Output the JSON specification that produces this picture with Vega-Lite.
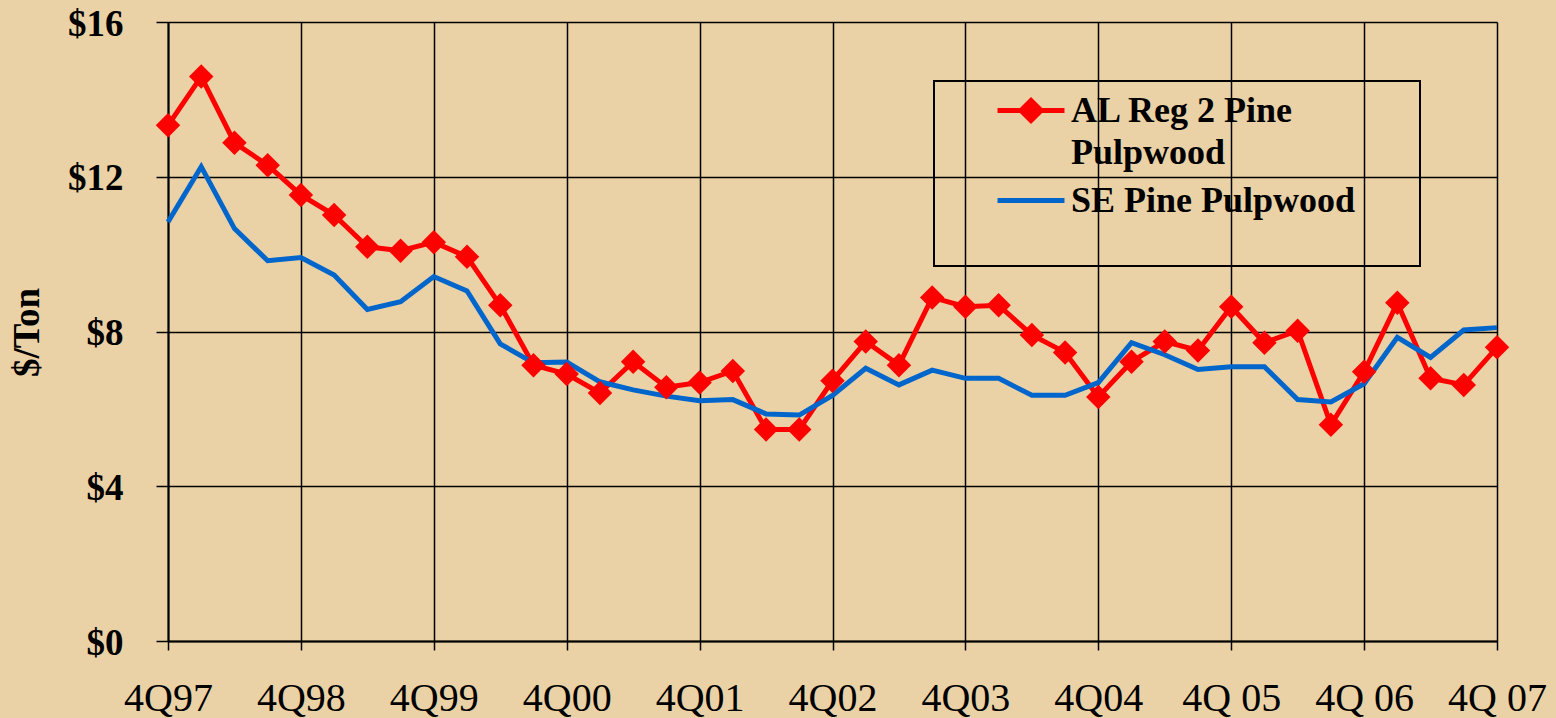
{
  "$schema": "https://vega.github.io/schema/vega-lite/v6.json",
  "autosize": {"type": "none"},
  "padding": {"left": 168, "top": 22, "right": 59, "bottom": 77},
  "width": 1329,
  "height": 619,
  "background": "#EAD2A6",
  "config": {"view": {"stroke": null}},
  "data": {"values": [
    {"quarter": "4Q97", "series": "AL Reg 2 Pine Pulpwood", "price": 13.33},
    {"quarter": "1Q98", "series": "AL Reg 2 Pine Pulpwood", "price": 14.59},
    {"quarter": "2Q98", "series": "AL Reg 2 Pine Pulpwood", "price": 12.88},
    {"quarter": "3Q98", "series": "AL Reg 2 Pine Pulpwood", "price": 12.30},
    {"quarter": "4Q98", "series": "AL Reg 2 Pine Pulpwood", "price": 11.53},
    {"quarter": "1Q99", "series": "AL Reg 2 Pine Pulpwood", "price": 11.01},
    {"quarter": "2Q99", "series": "AL Reg 2 Pine Pulpwood", "price": 10.19},
    {"quarter": "3Q99", "series": "AL Reg 2 Pine Pulpwood", "price": 10.09},
    {"quarter": "4Q99", "series": "AL Reg 2 Pine Pulpwood", "price": 10.31},
    {"quarter": "1Q00", "series": "AL Reg 2 Pine Pulpwood", "price": 9.93},
    {"quarter": "2Q00", "series": "AL Reg 2 Pine Pulpwood", "price": 8.68},
    {"quarter": "3Q00", "series": "AL Reg 2 Pine Pulpwood", "price": 7.13},
    {"quarter": "4Q00", "series": "AL Reg 2 Pine Pulpwood", "price": 6.90},
    {"quarter": "1Q01", "series": "AL Reg 2 Pine Pulpwood", "price": 6.41},
    {"quarter": "2Q01", "series": "AL Reg 2 Pine Pulpwood", "price": 7.22},
    {"quarter": "3Q01", "series": "AL Reg 2 Pine Pulpwood", "price": 6.56},
    {"quarter": "4Q01", "series": "AL Reg 2 Pine Pulpwood", "price": 6.68},
    {"quarter": "1Q02", "series": "AL Reg 2 Pine Pulpwood", "price": 6.98},
    {"quarter": "2Q02", "series": "AL Reg 2 Pine Pulpwood", "price": 5.47},
    {"quarter": "3Q02", "series": "AL Reg 2 Pine Pulpwood", "price": 5.47},
    {"quarter": "4Q02", "series": "AL Reg 2 Pine Pulpwood", "price": 6.73},
    {"quarter": "1Q03", "series": "AL Reg 2 Pine Pulpwood", "price": 7.74},
    {"quarter": "2Q03", "series": "AL Reg 2 Pine Pulpwood", "price": 7.13},
    {"quarter": "3Q03", "series": "AL Reg 2 Pine Pulpwood", "price": 8.88},
    {"quarter": "4Q03", "series": "AL Reg 2 Pine Pulpwood", "price": 8.64},
    {"quarter": "1Q04", "series": "AL Reg 2 Pine Pulpwood", "price": 8.68},
    {"quarter": "2Q04", "series": "AL Reg 2 Pine Pulpwood", "price": 7.91},
    {"quarter": "3Q04", "series": "AL Reg 2 Pine Pulpwood", "price": 7.46},
    {"quarter": "4Q04", "series": "AL Reg 2 Pine Pulpwood", "price": 6.31},
    {"quarter": "1Q 05", "series": "AL Reg 2 Pine Pulpwood", "price": 7.22},
    {"quarter": "2Q 05", "series": "AL Reg 2 Pine Pulpwood", "price": 7.74},
    {"quarter": "3Q 05", "series": "AL Reg 2 Pine Pulpwood", "price": 7.51},
    {"quarter": "4Q 05", "series": "AL Reg 2 Pine Pulpwood", "price": 8.64},
    {"quarter": "1Q 06", "series": "AL Reg 2 Pine Pulpwood", "price": 7.71},
    {"quarter": "2Q 06", "series": "AL Reg 2 Pine Pulpwood", "price": 8.02},
    {"quarter": "3Q 06", "series": "AL Reg 2 Pine Pulpwood", "price": 5.59},
    {"quarter": "4Q 06", "series": "AL Reg 2 Pine Pulpwood", "price": 6.96},
    {"quarter": "1Q 07", "series": "AL Reg 2 Pine Pulpwood", "price": 8.74},
    {"quarter": "2Q 07", "series": "AL Reg 2 Pine Pulpwood", "price": 6.79},
    {"quarter": "3Q 07", "series": "AL Reg 2 Pine Pulpwood", "price": 6.62},
    {"quarter": "4Q 07", "series": "AL Reg 2 Pine Pulpwood", "price": 7.59},
    {"quarter": "4Q97", "series": "SE Pine Pulpwood", "price": 10.83},
    {"quarter": "1Q98", "series": "SE Pine Pulpwood", "price": 12.26},
    {"quarter": "2Q98", "series": "SE Pine Pulpwood", "price": 10.66},
    {"quarter": "3Q98", "series": "SE Pine Pulpwood", "price": 9.83},
    {"quarter": "4Q98", "series": "SE Pine Pulpwood", "price": 9.91},
    {"quarter": "1Q99", "series": "SE Pine Pulpwood", "price": 9.46},
    {"quarter": "2Q99", "series": "SE Pine Pulpwood", "price": 8.57},
    {"quarter": "3Q99", "series": "SE Pine Pulpwood", "price": 8.77},
    {"quarter": "4Q99", "series": "SE Pine Pulpwood", "price": 9.42},
    {"quarter": "1Q00", "series": "SE Pine Pulpwood", "price": 9.05},
    {"quarter": "2Q00", "series": "SE Pine Pulpwood", "price": 7.68},
    {"quarter": "3Q00", "series": "SE Pine Pulpwood", "price": 7.19},
    {"quarter": "4Q00", "series": "SE Pine Pulpwood", "price": 7.21},
    {"quarter": "1Q01", "series": "SE Pine Pulpwood", "price": 6.70},
    {"quarter": "2Q01", "series": "SE Pine Pulpwood", "price": 6.49},
    {"quarter": "3Q01", "series": "SE Pine Pulpwood", "price": 6.33},
    {"quarter": "4Q01", "series": "SE Pine Pulpwood", "price": 6.21},
    {"quarter": "1Q02", "series": "SE Pine Pulpwood", "price": 6.24},
    {"quarter": "2Q02", "series": "SE Pine Pulpwood", "price": 5.87},
    {"quarter": "3Q02", "series": "SE Pine Pulpwood", "price": 5.84},
    {"quarter": "4Q02", "series": "SE Pine Pulpwood", "price": 6.35},
    {"quarter": "1Q03", "series": "SE Pine Pulpwood", "price": 7.05},
    {"quarter": "2Q03", "series": "SE Pine Pulpwood", "price": 6.62},
    {"quarter": "3Q03", "series": "SE Pine Pulpwood", "price": 7.00},
    {"quarter": "4Q03", "series": "SE Pine Pulpwood", "price": 6.79},
    {"quarter": "1Q04", "series": "SE Pine Pulpwood", "price": 6.79},
    {"quarter": "2Q04", "series": "SE Pine Pulpwood", "price": 6.35},
    {"quarter": "3Q04", "series": "SE Pine Pulpwood", "price": 6.35},
    {"quarter": "4Q04", "series": "SE Pine Pulpwood", "price": 6.68},
    {"quarter": "1Q 05", "series": "SE Pine Pulpwood", "price": 7.71},
    {"quarter": "2Q 05", "series": "SE Pine Pulpwood", "price": 7.40},
    {"quarter": "3Q 05", "series": "SE Pine Pulpwood", "price": 7.02},
    {"quarter": "4Q 05", "series": "SE Pine Pulpwood", "price": 7.09},
    {"quarter": "1Q 06", "series": "SE Pine Pulpwood", "price": 7.09},
    {"quarter": "2Q 06", "series": "SE Pine Pulpwood", "price": 6.24},
    {"quarter": "3Q 06", "series": "SE Pine Pulpwood", "price": 6.18},
    {"quarter": "4Q 06", "series": "SE Pine Pulpwood", "price": 6.65},
    {"quarter": "1Q 07", "series": "SE Pine Pulpwood", "price": 7.85},
    {"quarter": "2Q 07", "series": "SE Pine Pulpwood", "price": 7.33},
    {"quarter": "3Q 07", "series": "SE Pine Pulpwood", "price": 8.04},
    {"quarter": "4Q 07", "series": "SE Pine Pulpwood", "price": 8.10}
  ]},
  "encoding": {
    "x": {
      "field": "quarter", "type": "ordinal", "sort": null,
      "scale": {"type": "point", "padding": 0},
      "axis": {
        "title": null,
        "values": ["4Q97", "4Q98", "4Q99", "4Q00", "4Q01", "4Q02", "4Q03", "4Q04", "4Q 05", "4Q 06", "4Q 07"],
        "labelAngle": 0,
        "labelFont": "Liberation Serif", "labelFontSize": 40, "labelColor": "black",
        "labelBaseline": "alphabetic", "labelPadding": 60,
        "tickSize": 9, "tickColor": "black", "tickWidth": 1.5,
        "domainColor": "black", "domainWidth": 2,
        "grid": true, "gridColor": "black", "gridWidth": 1.5, "gridOpacity": 1
      }
    },
    "y": {
      "field": "price", "type": "quantitative",
      "scale": {"domain": [0, 16]},
      "axis": {
        "title": "$/Ton",
        "values": [0, 4, 8, 12, 16],
        "labelExpr": "'$' + datum.value",
        "labelFont": "Liberation Serif", "labelFontSize": 37, "labelFontWeight": "bold", "labelColor": "black",
        "labelPadding": 33, "labelOffset": 2,
        "tickSize": 12, "tickColor": "black", "tickWidth": 1.5,
        "domainColor": "black", "domainWidth": 2,
        "grid": true, "gridColor": "black", "gridWidth": 1.5, "gridOpacity": 1,
        "titleFont": "Liberation Serif", "titleFontSize": 37, "titleFontWeight": "bold", "titleColor": "black",
        "titleAngle": -90, "titleX": -141, "titleY": 310, "titleAlign": "center", "titleBaseline": "middle"
      }
    }
  },
  "layer": [
    {
      "mark": {"type": "line", "strokeWidth": 5},
      "encoding": {
        "order": {"value": null},
        "color": {
          "field": "series", "type": "nominal",
          "scale": {"domain": ["AL Reg 2 Pine Pulpwood", "SE Pine Pulpwood"], "range": ["#FF0000", "#0066CC"]},
          "legend": {
            "orient": "none", "legendX": 766, "legendY": 59,
            "title": " ",
            "titleOrient": "right", "titleFontSize": 36, "titlePadding": 56,
            "strokeColor": "black",
            "padding": 9,
            "symbolOffset": 67.5,
            "symbolSize": 1296, "symbolStrokeWidth": 5,
            "labelFont": "Liberation Serif", "labelFontSize": 36, "labelFontWeight": "bold", "labelColor": "black",
            "labelOffset": 19.5, "labelLimit": 600,
            "rowPadding": 9,
            "labelExpr": "datum.label == 'AL Reg 2 Pine Pulpwood' ? ['AL Reg 2 Pine', 'Pulpwood'] : [datum.label, '']",
            "encode": {
              "legend": {"update": {"strokeWidth": {"value": 2}}},
              "symbols": {"update": {
                "shape": {"signal": "datum.value == 'AL Reg 2 Pine Pulpwood' ? 'M-1.86,0H1.86M-0.56,0L0,-0.56L0.56,0L0,0.56Z' : 'M-1.86,0H1.86'"},
                "fill": {"signal": "datum.value == 'AL Reg 2 Pine Pulpwood' ? '#FF0000' : 'transparent'"}
              }},
              "labels": {"update": {"lineHeight": {"signal": "datum.value == 'AL Reg 2 Pine Pulpwood' ? 42 : 38"}}}
            }
          }
        }
      }
    },
    {
      "transform": [{"filter": "datum.series == 'AL Reg 2 Pine Pulpwood'"}],
      "mark": {"type": "point", "shape": "diamond", "filled": true, "size": 600, "color": "#FF0000", "opacity": 1}
    }
  ]
}
